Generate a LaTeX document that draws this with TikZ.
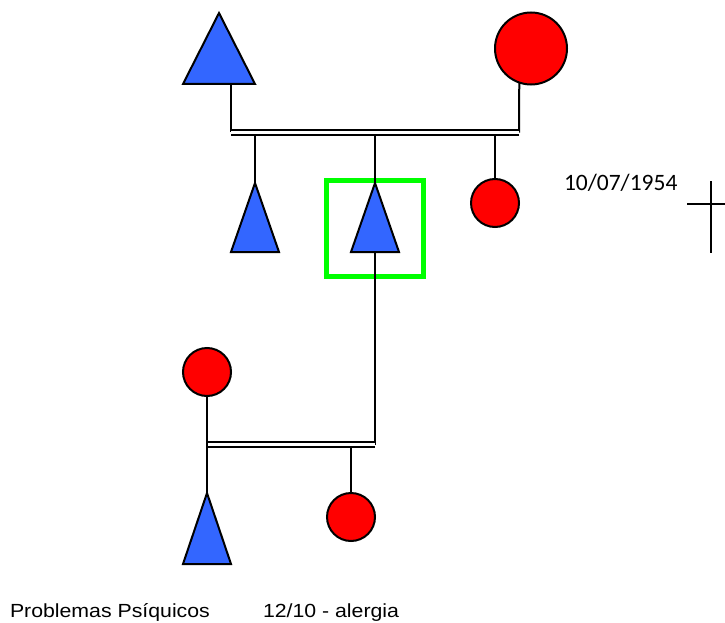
\documentclass[tikz,border=0pt]{standalone}
\usepackage{fontspec}
\newfontfamily\calibrifont{Carlito}
\newfontfamily\arialfont[FakeStretch=1.12]{Liberation Sans}
\usetikzlibrary{shapes.geometric}
\usetikzlibrary{calc}

\definecolor{maleblue}{RGB}{51,102,255}
\definecolor{femalered}{RGB}{255,0,0}
\definecolor{indexgreen}{RGB}{0,255,0}

\begin{document}
\begin{tikzpicture}[
                x = 1pt, y = -1pt, % pixel grid, y runs down
                line width = 2pt, % line style
                line join = miter
        ]

        \tikzstyle{male}=[
            draw = black,
            fill = maleblue,
            isosceles triangle,
            isosceles triangle stretches,
            shape border rotate = 90,
            inner sep = 0pt,
            outer sep = 0pt,
            anchor = apex
        ]
        \tikzstyle{female}=[
            draw = black,
            fill = femalered,
            circle,
            inner sep = 0pt,
            outer sep = 0pt
        ]
        \tikzstyle{couple}=[double, double distance = 3pt, line width = 2pt]

        \useasboundingbox (0,0) rectangle (725,623);

        % index person
        \node[draw = indexgreen, line width = 5pt, minimum width = 97pt,
              minimum height = 96pt, inner sep = 0pt] (IDX) at (375,228.5) {};

        \node[male, minimum width = 72pt, minimum height = 71pt] (X1) at (219,13) {};
        \node[female, minimum size = 72pt] (X2) at (531,48.5) {};
        \node[male, minimum width = 48pt, minimum height = 69pt] (X3) at (255,183) {};
        \node[male, minimum width = 48pt, minimum height = 69pt] (X4) at (375,183) {};
        \node[female, minimum size = 48pt] (X5) at (495,203) {};
        \node[female, minimum size = 48pt] (X6) at (207,372) {};
        \node[male, minimum width = 48pt, minimum height = 71pt] (X7) at (207,493) {};
        \node[female, minimum size = 48pt] (X8) at (351,517) {};

        \coordinate (U1) at (231,132.5);
        \coordinate (U2) at (519,132.5);
        \coordinate (V1) at (207,444.5);
        \coordinate (V2) at (375,444.5);

        \draw (X1.lower side -| U1) -- (U1);
        \draw (X2.-109.5) -- (U2);
        \draw (X3.apex |- U1) -- (X3.apex);
        \draw (X4.apex |- U1) -- (X4.apex);
        \draw (X5.north |- U1) -- (X5.north);
        \draw[couple] (U1) -- (U2);

        \draw (X4.lower side) -- (V2);
        \draw (X8.north |- V1) -- (X8.north);
        \draw[couple] (V1) -- (V2);
        \draw (X6.south) -- (X7.apex);

        % deceased mark
        \draw (711,181) -- (711,253);
        \draw (687,204) -- (725,204);

        \node[anchor = base west, inner sep = 0pt,
              font = \calibrifont\fontsize{23.5}{28}\selectfont] (D1) at (563,190.5) {10/07/1954};
        \node[anchor = base west, inner sep = 0pt,
              font = \arialfont\fontsize{19}{23}\selectfont] (T1) at (9,617) {Problemas Psíquicos};
        \node[anchor = base west, inner sep = 0pt,
              font = \arialfont\fontsize{19}{23}\selectfont] (T2) at (262,617) {12/10 - alergia};

\end{tikzpicture}
\end{document}
